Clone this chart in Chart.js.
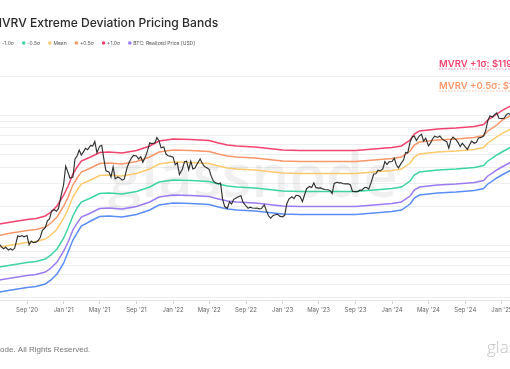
<!DOCTYPE html>
<html>
<head>
<meta charset="utf-8">
<title>MVRV Extreme Deviation Pricing Bands</title>
<script src="https://cdn.jsdelivr.net/npm/chart.js"></script>
<style>
  html, body { margin: 0; padding: 0; background: #fff; overflow: hidden; }
  /* the chart is wider than the window and shifted left, like the cropped screenshot */
  #wrap { position: absolute; left: -20px; top: 0; width: 570px; height: 369px; }
</style>
</head>
<body>
<div id="wrap"><canvas id="chart"></canvas></div>
<script>
// ---- data ----
const bandDates = [
  '2020-05-15','2020-06-01','2020-07-01','2020-08-01','2020-09-01','2020-10-01','2020-11-01','2020-11-20','2020-12-10',
  '2021-01-01','2021-01-15','2021-02-01','2021-02-15','2021-03-01','2021-04-01','2021-05-01','2021-06-01','2021-07-15','2021-09-01','2021-10-15','2021-11-15',
  '2022-01-01','2022-03-01','2022-05-01','2022-06-01','2022-07-01','2022-08-01','2022-10-01','2022-11-01','2022-12-01',
  '2023-01-01','2023-03-01','2023-06-01','2023-09-01','2023-11-01',
  '2024-01-01','2024-02-01','2024-03-01','2024-03-15','2024-04-01','2024-05-01','2024-06-01','2024-08-01','2024-10-01','2024-11-01','2024-11-15','2024-12-01','2024-12-15',
  '2025-01-01','2025-02-01'
];
const realizedPrice = [5320, 5420, 5560, 5710, 5870, 5970, 6240, 6700, 7450, 9020, 10470, 13140, 14860, 16530, 17760, 19230, 19400, 19070, 19910, 21560, 23570,
  24420, 24200, 23780, 22750, 21960, 21580, 21190, 20820, 20460, 20100, 19920, 19920, 19920, 20460,
  21010, 21580, 23990, 26670, 28130, 28640, 29150, 29670, 30470, 31590, 34200, 36070, 38030, 40100, 43800];
const plus1 = [14350, 14600, 15000, 15410, 15820, 16110, 16840, 18070, 20100, 24320, 28250, 35420, 40090, 44570, 47880, 51830, 52310, 51390, 53690, 58140, 63560,
  65840, 65260, 64110, 61330, 59210, 58170, 57150, 56140, 55160, 54190, 53710, 53710, 53710, 55160,
  56640, 58170, 64680, 71910, 75840, 77200, 78570, 79980, 82130, 85160, 92220, 97240, 102500, 109000, 119000];
const plus05 = [11810, 11920, 12350, 12680, 13020, 13260, 13860, 14870, 16540, 20010, 23240, 29160, 32990, 36690, 39400, 42640, 43030, 42280, 44180, 47840, 52310,
  54190, 53710, 52760, 50480, 48710, 47860, 47020, 46190, 45380, 44590, 44200, 44200, 44200, 45380,
  46600, 47860, 53230, 59190, 62420, 63540, 64680, 65820, 67590, 70070, 75890, 80030, 84380, 91500, 100500];
const mean = [9550, 9720, 9980, 10250, 10530, 10720, 11200, 12020, 13370, 16180, 18790, 23570, 26670, 29660, 31850, 34480, 34800, 34190, 35730, 38680, 42280,
  43800, 43410, 42650, 40810, 39390, 38700, 38020, 37350, 36700, 36050, 35740, 35740, 35740, 36700,
  37690, 38700, 43030, 47850, 50450, 51350, 52280, 53200, 54650, 56650, 61360, 64700, 68230, 72500, 79200];
const minus05 = [6700, 6820, 7010, 7190, 7390, 7520, 7860, 8440, 9380, 11350, 13430, 16840, 19400, 21570, 23170, 25060, 25300, 24850, 25980, 28120, 30750,
  31850, 31570, 31010, 29670, 28640, 28130, 27650, 27160, 26690, 26220, 25990, 25990, 25990, 26690,
  27400, 28130, 31290, 34790, 36690, 37350, 38010, 38690, 39730, 41200, 44610, 47040, 49590, 52290, 57150];
const minus1 = [4300, 4380, 4500, 4620, 4740, 4830, 5050, 5420, 6030, 7290, 8780, 11000, 12460, 14100, 15410, 16680, 16840, 16540, 17290, 18720, 20460,
  21190, 21010, 20640, 19750, 19060, 18720, 18390, 18070, 17760, 17440, 17290, 17290, 17290, 17760,
  18230, 18720, 20820, 23160, 24420, 24850, 25300, 25740, 26440, 27410, 29690, 31300, 33000, 34800, 38020];

// BTC price, sampled on the 1st, 8th, 15th and 22nd of each month
const priceDays = [1, 8, 15, 22];
const btcPrice = [
  // 2020 May - Dec
  8800, 9800, 9350, 9170,  10200, 9750, 9430, 9680,  9230, 9430, 9200, 9540,  11800, 11700, 11900, 11650,
  11900, 10100, 10800, 10500,  10600, 10900, 11500, 12990,  13750, 15480, 15960, 18400,  18800, 18300, 19250, 23250,
  // 2021
  29400, 40600, 36800, 33000,  33500, 46200, 48700, 54100,  49600, 52400, 55800, 54500,  58700, 58000, 63100, 51700,
  57800, 58800, 46500, 37500,  36700, 33600, 40200, 32500,  33600, 32900, 31800, 32300,  39900, 43800, 47000, 49300,
  48800, 46100, 48100, 43600,  48200, 53800, 61500, 60700,  61300, 67500, 63600, 56300,  57200, 50600, 48900, 48600,
  // 2022
  47700, 41700, 43100, 35100,  38700, 44000, 44500, 38200,  44400, 38700, 39300, 42300,  46300, 42800, 40500, 39700,
  38500, 34100, 31300, 30300,  29800, 30200, 22600, 19900,  19300, 21600, 20800, 22600,  23300, 23800, 24100, 21500,
  20100, 19300, 19700, 19400,  19300, 19400, 19100, 19200,  20500, 18500, 16900, 16200,  17000, 17200, 17400, 16800,
  // 2023
  16600, 17100, 20900, 22700,  23700, 22900, 24300, 24200,  23600, 21700, 24400, 27300,  28400, 27900, 30300, 27800,
  27600, 27700, 27200, 26900,  26800, 26500, 25100, 30000,  30600, 30300, 30300, 29800,  29700, 29800, 29200, 26000,
  25900, 25900, 26600, 26600,  27900, 27900, 27100, 30000,  35400, 35600, 37900, 37400,  38700, 44200, 41900, 43900,
  // 2024
  44200, 47000, 41700, 39500,  43100, 45300, 51900, 51300,  62400, 68300, 69400, 64000,  69700, 71600, 63400, 66800,
  58300, 61200, 66200, 69200,  67700, 69300, 66200, 64300,  62800, 55900, 64700, 68000,  65000, 61700, 57500, 61000,
  57300, 54800, 59100, 63300,  61000, 62100, 67000, 67400,  69400, 76500, 91000, 98900,  97200, 101100, 104500, 95100,
  // 2025
  94400, 95000, 100500, 103700,  100600
];

const tickDates = ['2020-09-01','2021-01-01','2021-05-01','2021-09-01','2022-01-01','2022-05-01','2022-09-01',
  '2023-01-01','2023-05-01','2023-09-01','2024-01-01','2024-05-01','2024-09-01','2025-01-01'];
const tickLabels = ["Sep '20","Jan '21","May '21","Sep '21","Jan '22","May '22","Sep '22",
  "Jan '23","May '23","Sep '23","Jan '24","May '24","Sep '24","Jan '25"];
const gridValues = [4000, 5000, 6000, 7000, 8000, 9000, 10000, 20000, 30000, 40000, 50000, 60000, 70000, 80000, 90000, 100000, 200000];

// ---- helpers ----
const EPOCH = Date.UTC(2021, 0, 1);
const toDay = s => (Date.parse(s + 'T00:00:00Z') - EPOCH) / 864e5;

const priceDates = [];
for (let y = 2020, m = 5; ; m++) {
  if (m > 12) { m = 1; y++; }
  for (const d of priceDays) priceDates.push(`${y}-${String(m).padStart(2, '0')}-${String(d).padStart(2, '0')}`);
  if (y === 2025 && m === 1) break;
}
priceDates.push('2025-02-01');

const pts = (dates, vals) => vals.map((v, i) => ({ x: toDay(dates[i]), y: v }));

const C = {
  price: '#2f2f2f', red: '#f2436e', orange: '#fa9769', yellow: '#fcc96c',
  teal: '#3dd4a4', purple: '#9a7bf3', blue: '#5a8df5'
};

const OFF = 20; // canvas x of window x = 0

const band = (label, data, color) => ({
  label, data: pts(bandDates, data), borderColor: color, backgroundColor: color,
  borderWidth: 1.5, pointRadius: 0, tension: 0
});

const fmtK = v => '$' + (v / 1000).toFixed(1) + 'K';

const decor = {
  id: 'decor',
  beforeDatasetsDraw(chart) {
    const ctx = chart.ctx;
    ctx.save();
    ctx.font = '600 60px "Open Sans"';
    ctx.fillStyle = 'rgba(0,0,0,0.06)';
    ctx.textAlign = 'center';
    ctx.textBaseline = 'alphabetic';
    ctx.fillText('glassnode', OFF + 253, 197);
    ctx.restore();
  },
  afterDraw(chart) {
    const ctx = chart.ctx;
    ctx.save();
    ctx.textBaseline = 'alphabetic';

    // title, its first letter falls off the left edge
    ctx.font = '500 12.1px Inter';
    ctx.fillStyle = '#2a2a2a';
    const title = 'MVRV Extreme Deviation Pricing Bands';
    ctx.fillText(title, OFF + 2 - ctx.measureText('M').width, 27);

    // legend
    const items = chart.data.datasets.filter(d => d.inLegend).sort((a, b) => a.legendOrder - b.legendOrder);
    ctx.font = '5px Inter';
    ctx.textBaseline = 'middle';
    let lx = OFF - 1.5;
    for (const it of items) {
      ctx.fillStyle = it.borderColor;
      ctx.beginPath();
      ctx.arc(lx, 43, 1.8, 0, Math.PI * 2);
      ctx.fill();
      ctx.fillStyle = '#555';
      ctx.fillText(it.label, lx + 3.5, 43.3);
      lx += 3.5 + ctx.measureText(it.label).width + 9.8;
    }

    // value tags on the right
    const tags = [
      ['MVRV +1σ: ' + fmtK(plus1[plus1.length - 1]), C.red, 63],
      ['MVRV +0.5σ: ' + fmtK(plus05[plus05.length - 1]), C.orange, 85]
    ];
    ctx.font = '600 9.5px Inter';
    ctx.textBaseline = 'alphabetic';
    for (const [t, col, y] of tags) {
      const x = OFF + 439;
      ctx.fillStyle = col;
      ctx.fillText(t, x, y + 3.5);
      ctx.strokeStyle = col;
      ctx.globalAlpha = 0.8;
      ctx.lineWidth = 0.8;
      ctx.setLineDash([1.5, 1.5]);
      ctx.beginPath();
      ctx.moveTo(x, y + 6);
      ctx.lineTo(x + ctx.measureText(t).width, y + 6);
      ctx.stroke();
      ctx.setLineDash([]);
      ctx.globalAlpha = 1;
    }

    // footer
    ctx.font = '8px "Liberation Sans"';
    ctx.fillStyle = '#777';
    const foot = '© 2025 Glassnode. All Rights Reserved.';
    ctx.fillText(foot, OFF - ctx.measureText('© 2025 Glassn').width, 352);
    ctx.font = '300 17px "Open Sans"';
    ctx.fillStyle = '#c2c2c2';
    ctx.fillText('glassnode', OFF + 487, 353);
    ctx.restore();
  }
};

Chart.defaults.font.family = 'Inter, "Noto Sans", sans-serif';

const datasets = [
  { label: 'BTC: Price [USD]', data: pts(priceDates, btcPrice), borderColor: C.price, borderWidth: 1.15, pointRadius: 0, tension: 0 },
  Object.assign(band('+1.0σ', plus1, C.red), { inLegend: true, legendOrder: 4 }),
  Object.assign(band('+0.5σ', plus05, C.orange), { inLegend: true, legendOrder: 3 }),
  Object.assign(band('Mean', mean, C.yellow), { inLegend: true, legendOrder: 2 }),
  Object.assign(band('-0.5σ', minus05, C.teal), { inLegend: true, legendOrder: 1 }),
  Object.assign(band('BTC: Realized Price [USD]', realizedPrice, C.purple), { inLegend: true, legendOrder: 5 }),
  Object.assign(band('-1.0σ', minus1, C.blue), { inLegend: true, legendOrder: 0 })
];

new Chart(document.getElementById('chart'), {
  type: 'line',
  data: { datasets },
  options: {
    responsive: true,
    maintainAspectRatio: false,
    animation: false,
    layout: { padding: { top: 58, bottom: 49, left: 0, right: 0 } },
    plugins: { legend: { display: false }, title: { display: false }, tooltip: { enabled: false } },
    scales: {
      x: {
        type: 'linear',
        min: -278.7,
        max: 1621.3,
        afterBuildTicks: s => { s.ticks = tickDates.map(d => ({ value: toDay(d) })); },
        afterFit: s => { s.height = 20; },
        ticks: {
          callback: (v, i) => tickLabels[i],
          font: { size: 6 }, color: '#666', padding: 3, maxRotation: 0, autoSkip: false
        },
        grid: { drawOnChartArea: false, drawTicks: true, tickLength: 4, color: '#d6d6d6' },
        border: { display: true, color: '#e4e4e4' }
      },
      y: {
        type: 'logarithmic',
        position: 'right',
        min: 3802,
        max: 276400,
        afterBuildTicks: s => { s.ticks = gridValues.map(v => ({ value: v })); },
        afterFit: s => { s.width = 0; },
        ticks: { display: false },
        grid: { color: '#eeeeee', drawTicks: false },
        border: { display: false }
      }
    }
  },
  plugins: [decor]
});
</script>
</body>
</html>
